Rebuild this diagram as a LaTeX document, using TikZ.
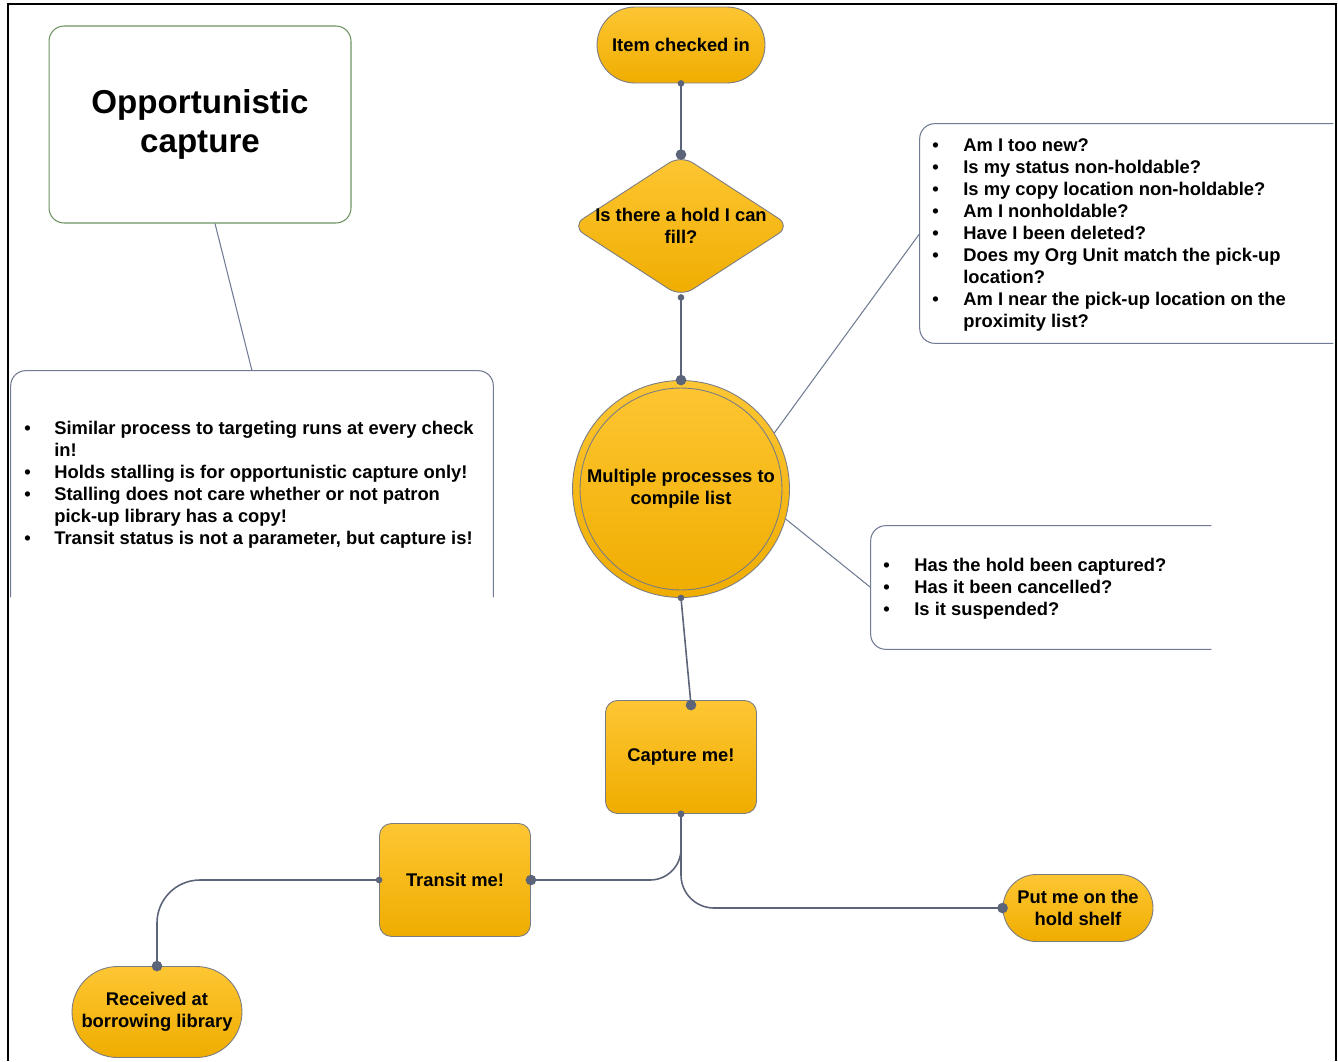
\documentclass[tikz,border=0pt]{standalone}
\usepackage{fontspec}
\setmainfont{Liberation Sans}
\usepackage{tikz}
\usetikzlibrary{positioning,arrows.meta,shapes.geometric}

\definecolor{connc}{HTML}{5B6479}
\definecolor{edgec}{HTML}{7A7C84}
\definecolor{notec}{HTML}{707B94}
\definecolor{titlec}{HTML}{6A9460}
\definecolor{goldtop}{HTML}{FDC633}
\definecolor{goldbot}{HTML}{F0AD00}

\begin{document}
\begin{tikzpicture}[
    x=0.02cm, y=-0.02cm,
    font=\fontsize{10.45}{12.5}\selectfont\bfseries,
    gold/.style={draw=edgec, line width=0.5pt, top color=goldtop, bottom color=goldbot,
                 align=center, inner sep=0pt},
    pill/.style={gold, rectangle},
    card/.style={gold, rectangle, rounded corners=0.24cm,
                 minimum width=3.02cm, minimum height=2.26cm},
    decide/.style={gold, diamond, rounded corners=8pt,
                   minimum width=4.38cm, minimum height=2.84cm},
    ring/.style={gold, circle, minimum size=4.34cm},
    conn/.style={{Circle[length=0.13cm]}-{Circle[length=0.21cm]}, line width=0.9pt,
                 draw=connc, shorten <=-0.065cm, shorten >=-0.105cm},
    callout/.style={draw=notec, line width=0.6pt},
    notebox/.style={rectangle, inner sep=0pt},
    listtext/.style={anchor=base west, inner sep=0pt},
  ]
    \useasboundingbox (0,0) rectangle (1338,1061);

    % page frame (bottom edge cut off)
    \draw[line width=1.2pt] (8,1061) -- (8,4) -- (1336,4) -- (1336,1061);

    % main flow
    \node[pill, rounded corners=0.76cm, minimum width=3.36cm, minimum height=1.52cm]
        (start) at (681,45) {Item checked in};
    \node[decide, label={[align=center, font=\fontsize{10.45}{12.5}\selectfont\bfseries]center:Is there a hold I can\\fill?}]
        (fill) at (681,226) {};
    \node[ring] (proc) at (681,489) {Multiple processes to\\compile list};
    \draw[draw=edgec, line width=0.5pt] (proc.center) circle[radius=2.02cm];
    \node[card] (capture) at (681,757) {Capture me!};
    \node[card] (transit) at (455,880) {Transit me!};
    \node[pill, rounded corners=0.91cm, minimum width=3.4cm, minimum height=1.82cm]
        (recv) at (157,1012) {Received at\\borrowing library};
    \node[pill, rounded corners=0.67cm, minimum width=3.0cm, minimum height=1.34cm]
        (shelf) at (1078,908) {Put me on the\\hold shelf};

    \draw[conn] (start) -- (fill);
    \draw[conn] (fill) -- (proc);
    \draw[conn] (proc.south) -- ([xshift=0.2cm, yshift=-0.1cm]capture.north);
    \draw[conn, rounded corners=0.62cm] (capture.south) |- (transit.east);
    \draw[conn, rounded corners=0.66cm] (capture.south) |- (shelf.west);
    \draw[conn, rounded corners=0.86cm] (transit.west) -| (recv.north);

    % title and side notes
    \node[draw=titlec, line width=0.6pt, rounded corners=0.3cm, align=center,
          minimum width=6.04cm, minimum height=3.94cm,
          font=\fontsize{18.85}{22}\selectfont\bfseries]
        (title) at (200,124.5) {Opportunistic\\capture};

    \node[notebox, minimum width=9.64cm, minimum height=4.52cm] (notes) at (252,484) {};
    \draw[callout, rounded corners=0.3cm]
        (notes.south west) -- (notes.north west) -- (notes.north east) -- (notes.south east);
    \node[listtext] (notelist) at (24,434.5) {%
      \begin{tabular}[t]{@{}p{0.6cm}@{}l@{}}
        \textbullet & Similar process to targeting runs at every check\\
                    & in!\\
        \textbullet & Holds stalling is for opportunistic capture only!\\
        \textbullet & Stalling does not care whether or not patron\\
                    & pick-up library has a copy!\\
        \textbullet & Transit status is not a parameter, but capture is!
      \end{tabular}};

    \node[notebox, minimum width=8.26cm, minimum height=4.38cm] (checks) at (1126.5,233.5) {};
    \draw[callout, rounded corners=0.3cm]
        (checks.north east) -- (checks.north west) -- (checks.south west) -- (checks.south east);
    \node[listtext] (checklist) at (932,151.5) {%
      \begin{tabular}[t]{@{}p{0.62cm}@{}l@{}}
        \textbullet & Am I too new?\\
        \textbullet & Is my status non-holdable?\\
        \textbullet & Is my copy location non-holdable?\\
        \textbullet & Am I nonholdable?\\
        \textbullet & Have I been deleted?\\
        \textbullet & Does my Org Unit match the pick-up\\
                    & location?\\
        \textbullet & Am I near the pick-up location on the\\
                    & proximity list?
      \end{tabular}};

    \node[notebox, minimum width=6.8cm, minimum height=2.46cm] (holds) at (1041,587.5) {};
    \draw[callout, rounded corners=0.3cm]
        (holds.north east) -- (holds.north west) -- (holds.south west) -- (holds.south east);
    \node[listtext] (holdlist) at (883,571.5) {%
      \begin{tabular}[t]{@{}p{0.62cm}@{}l@{}}
        \textbullet & Has the hold been captured?\\
        \textbullet & Has it been cancelled?\\
        \textbullet & Is it suspended?
      \end{tabular}};

    \draw[callout] ([xshift=0.3cm]title.south) -- (notes.north);
    \draw[callout] (proc.31) -- (checks.west);
    \draw[callout] (proc.-16) -- (holds.west);
  \end{tikzpicture}
\end{document}
